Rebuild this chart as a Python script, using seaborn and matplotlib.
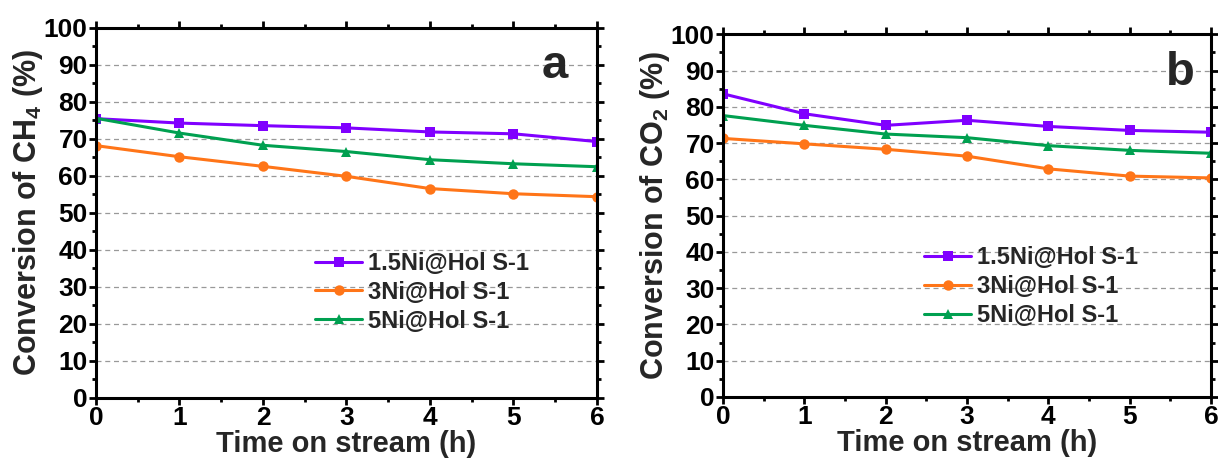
import matplotlib
matplotlib.use("Agg")
import matplotlib.pyplot as plt
from matplotlib.ticker import MultipleLocator
import numpy as np
import pandas as pd
import seaborn as sns

# Time on stream (h)
hours = [0, 1, 2, 3, 4, 5, 6]
samples = ["1.5Ni@Hol S-1", "3Ni@Hol S-1", "5Ni@Hol S-1"]

# CH4 conversion (%)
ch4_15ni = [75.5, 74.3, 73.6, 73.0, 71.9, 71.4, 69.3]
ch4_3ni = [68.2, 65.2, 62.6, 59.9, 56.6, 55.2, 54.4]
ch4_5ni = [75.6, 71.6, 68.3, 66.6, 64.4, 63.3, 62.5]

# CO2 conversion (%)
co2_15ni = [83.6, 78.1, 74.9, 76.3, 74.6, 73.5, 73.0]
co2_3ni = [71.3, 69.8, 68.3, 66.4, 62.9, 60.9, 60.4]
co2_5ni = [77.6, 74.9, 72.5, 71.5, 69.3, 68.0, 67.2]

palette = ["#8000ff", "#ff7518", "#00a050"]
markers = ["s", "o", "^"]

sns.set_theme(style="ticks")
plt.rcParams["font.family"] = ["Liberation Sans", "DejaVu Sans"]
plt.rcParams["font.weight"] = "bold"
plt.rcParams["mathtext.fontset"] = "custom"
plt.rcParams["mathtext.rm"] = "Liberation Sans:bold"
plt.rcParams["mathtext.bf"] = "Liberation Sans:bold"
plt.rcParams["mathtext.it"] = "Liberation Sans:bold"


def make_frame(series):
    rows = []
    for name, vals in zip(samples, series):
        for t, v in zip(hours, vals):
            rows.append({"time": t, "conv": v, "sample": name})
    return pd.DataFrame(rows)


fig = plt.figure(figsize=(12.18, 4.61), dpi=100)
ax_a = fig.add_axes([0.0788, 0.1367, 0.4113, 0.8026])
ax_b = fig.add_axes([0.5936, 0.1390, 0.4007, 0.7865])

panels = [
    (ax_a, [ch4_15ni, ch4_3ni, ch4_5ni], r"Conversion of CH$_4$ (%)", "a",
     (0.916, 0.865), (0.437, 0.395)),
    (ax_b, [co2_15ni, co2_3ni, co2_5ni], r"Conversion of CO$_2$ (%)", "b",
     (0.937, 0.860), (0.412, 0.415)),
]

for ax, series, ylab, tag, tag_pos, leg_pos in panels:
    df = make_frame(series)
    sns.lineplot(data=df, x="time", y="conv", hue="sample", style="sample",
                 palette=palette, markers=markers, dashes=False, ax=ax,
                 linewidth=2.2, markersize=7.5, markeredgewidth=0)
    ax.set_xlim(0, 6)
    ax.set_ylim(0, 100)
    ax.xaxis.set_major_locator(MultipleLocator(1))
    ax.xaxis.set_minor_locator(MultipleLocator(0.5))
    ax.yaxis.set_major_locator(MultipleLocator(10))
    ax.yaxis.set_minor_locator(MultipleLocator(5))
    for y in range(10, 100, 10):
        ax.axhline(y, color="#999999", linestyle=(0, (4, 3)), linewidth=0.9,
                   zorder=0)
    for sp in ax.spines.values():
        sp.set_linewidth(2.2)
        sp.set_color("black")
        sp.set_visible(True)
    ax.tick_params(which="both", direction="out", width=2, colors="black",
                   top=True, right=True, labeltop=False, labelright=False)
    ax.tick_params(which="major", length=5, labelsize=19, pad=1)
    ax.tick_params(which="minor", length=3)
    for lab in ax.get_xticklabels() + ax.get_yticklabels():
        lab.set_fontweight("bold")
    ax.set_xlabel("Time on stream (h)", fontsize=21, fontweight="bold",
                  labelpad=0)
    ax.set_ylabel(ylab, fontsize=22, fontweight="bold", labelpad=-1)
    ax.text(tag_pos[0], tag_pos[1], tag, transform=ax.transAxes,
            fontsize=34, fontweight="bold", ha="center", va="baseline")
    leg = ax.legend(loc="upper left", bbox_to_anchor=leg_pos, frameon=False,
                    fontsize=17, handlelength=2.0, handletextpad=0.25,
                    labelspacing=0.25, borderpad=0, borderaxespad=0,
                    markerscale=1.0)
    for txt in leg.get_texts():
        txt.set_fontweight("bold")

fig.savefig("out.png", dpi=100)
